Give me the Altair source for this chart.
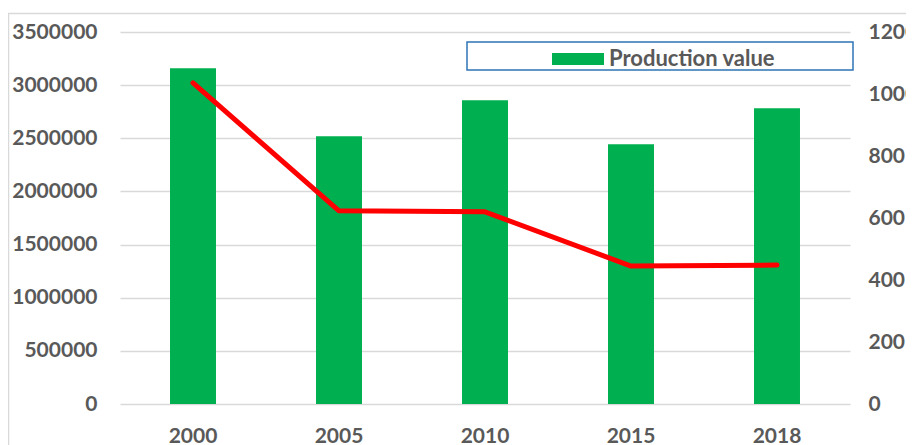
import altair as alt
import pandas as pd

years = ["2000", "2005", "2010", "2015", "2018"]
production_value = [3158000, 2519000, 2857000, 2443000, 2782000]
line_values = [1036, 623, 620, 445, 448]
legend_label = "Production value"
left_ticks = [0, 500000, 1000000, 1500000, 2000000, 2500000, 3000000, 3500000]
right_ticks = [0, 200, 400, 600, 800, 1000, 1200]

df = pd.DataFrame({
    "year": years,
    "production": production_value,
    "other": line_values,
    "series": [legend_label] * len(years),
})

FONT = "Lato"
TXT = "#595959"
GRID = "#D9D9D9"

x_enc = alt.X(
    "year:N",
    sort=years,
    scale=alt.Scale(paddingInner=0.685, paddingOuter=0.3425),
    axis=alt.Axis(title=None, labelAngle=0, domain=False, ticks=False,
                  labelPadding=21, labelFontSize=21),
)

base = alt.Chart(df)

bars = base.mark_bar().encode(
    x=x_enc,
    y=alt.Y(
        "production:Q",
        scale=alt.Scale(domain=[0, 3500000], nice=False),
        axis=alt.Axis(title=None, values=left_ticks, format="d", grid=True,
                      gridColor=GRID, gridWidth=1.5, domain=False, ticks=False,
                      labelPadding=23, labelFontSize=21),
    ),
    color=alt.Color(
        "series:N",
        scale=alt.Scale(domain=[legend_label], range=["#00B050"]),
        legend=alt.Legend(
            orient="none", legendX=432, legendY=1, title=None,
            symbolType="M-1,-0.23H1V0.23H-1Z", symbolSize=2704,
            symbolStrokeWidth=0, symbolOpacity=1,
            labelFont=FONT, labelFontSize=22, labelFontWeight="bold",
            labelColor=TXT, labelOffset=5, labelLimit=300, padding=0,
        ),
    ),
)

line = base.mark_line(color="#FF0000", strokeWidth=5, strokeCap="round",
                      strokeJoin="round").encode(
    x=x_enc,
    y=alt.Y(
        "other:Q",
        scale=alt.Scale(domain=[0, 1200], nice=False),
        axis=alt.Axis(title=None, orient="right", values=right_ticks, format="d",
                      grid=False, domain=False, ticks=False, labelPadding=18,
                      labelFontSize=21),
    ),
)

one = alt.Chart(pd.DataFrame({"a": [0]}))

border = one.mark_rect(fill=None, stroke="#D9D9D9", strokeWidth=1.5).encode(
    x=alt.value(-111.5), x2=alt.value(900), y=alt.value(-18.5), y2=alt.value(520)
)

legend_box = one.mark_rect(fill=None, stroke="#2E75B6", strokeWidth=1.5).encode(
    x=alt.value(347), x2=alt.value(733), y=alt.value(10), y2=alt.value(38)
)

chart = alt.layer(border, bars, line, legend_box).resolve_scale(
    y="independent"
).properties(
    width=730,
    height=372,
    autosize=alt.AutoSizeParams(type="none"),
    padding={"left": 112, "top": 24, "right": 56, "bottom": 41},
).configure_view(stroke=None).configure_axis(
    labelFont=FONT, labelFontWeight="bold", labelColor=TXT
)

chart.save("out.html", embed_options={"renderer": "svg", "actions": False})
